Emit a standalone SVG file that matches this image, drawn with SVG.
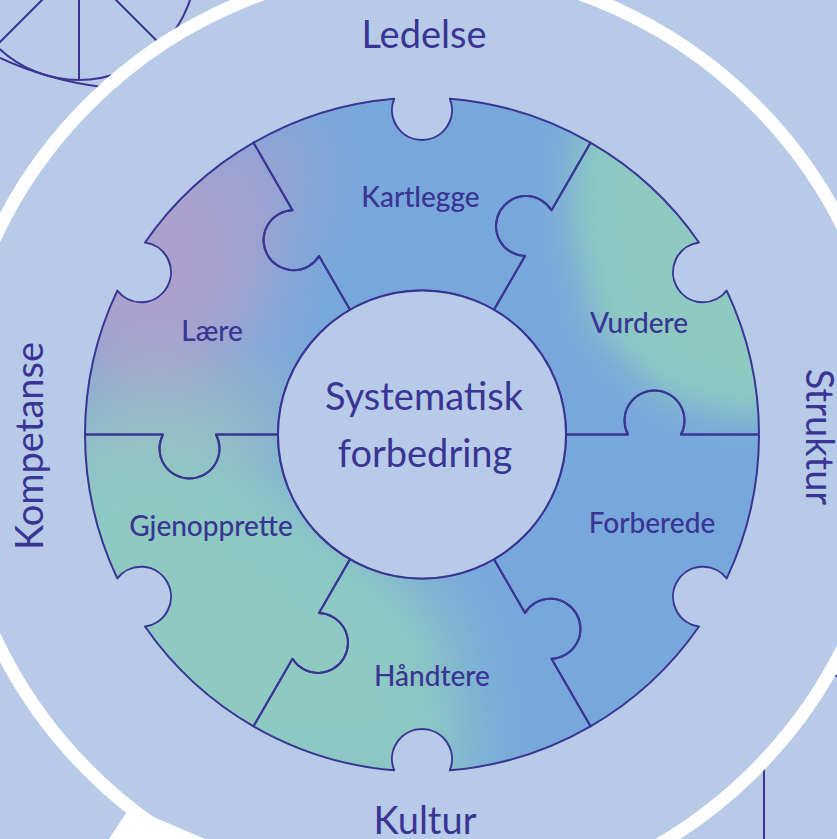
<svg xmlns="http://www.w3.org/2000/svg" xmlns:xlink="http://www.w3.org/1999/xlink" width="837" height="839" viewBox="0 0 837 839">
<style>
.ln{fill:none;stroke:#3a3494;stroke-width:2}
.piece{fill:none;stroke:#3a3494;stroke-width:2;stroke-linejoin:round}
.t{font-family:Lato,"Open Sans","DejaVu Sans",sans-serif;fill:#3a3494;text-anchor:middle}
.outer{font-size:38px}
.center{font-size:38px}
.plabel{font-size:28px;font-weight:500}
</style>
<defs>
<filter id="blur" filterUnits="userSpaceOnUse" x="0" y="0" width="837" height="839">
<feGaussianBlur stdDeviation="34"/>
</filter>
<filter id="blur2" filterUnits="userSpaceOnUse" x="0" y="0" width="837" height="839">
<feGaussianBlur stdDeviation="18"/>
</filter>
<clipPath id="ringClip">
<use xlink:href="#p-kartlegge"/>
<use xlink:href="#p-vurdere"/>
<use xlink:href="#p-forberede"/>
<use xlink:href="#p-handtere"/>
<use xlink:href="#p-gjenopprette"/>
<use xlink:href="#p-laere"/>
</clipPath>
</defs>
<rect width="837" height="839" fill="#b7cbe8"/>

<g id="background-marks">
<circle class="ln" cx="79" cy="-37" r="117"/>
<path class="ln" d="M79,-37 L79,80 M79,-37 L-4,46 M79,-37 L162,46"/>
<path class="ln" d="M0,58 C30,72 62,82 102,87"/>
<path class="ln" d="M764,766 L764,839 M830,676 L837,676"/>
<polygon points="130,807 109,839 205,839" fill="#ffffff"/>
<circle cx="421.5" cy="437.5" r="471" fill="none" stroke="#ffffff" stroke-width="13"/>
</g>

<g id="color-field" clip-path="url(#ringClip)">
<rect x="70" y="80" width="700" height="710" fill="#78a8db"/>
<g filter="url(#blur)">
<ellipse cx="150" cy="255" rx="125" ry="125" fill="#aaa1cd"/>
<ellipse cx="272" cy="175" rx="40" ry="65" fill="#9aa2d1"/>
<ellipse cx="175" cy="420" rx="130" ry="45" fill="#97b9c7"/>
<path d="M40,452 L190,446 L290,488 L390,565 L445,615 L462,700 L470,800 L40,800 Z" fill="#8ecac2"/>
</g>
<g filter="url(#blur2)">
<path d="M580,118 L700,128 L800,250 L800,410 L740,418 L665,396 L596,330 L570,220 Z" fill="#8ecac2"/>
</g>
</g>

<g id="pieces">
<g id="node-kartlegge">
<path id="p-kartlegge" class="piece" d="M494,309.8 L525,256.1 A30,30 0 1 1 551.5,210.2 L590.5,142.7 A337,337 0 0 0 449.8,98.65 A30,30 0 1 1 394.2,98.65 A337,337 0 0 0 253.5,142.7 L292.5,210.2 A30,30 0 1 0 319,256.1 L350,309.8 A144,144 0 0 1 494,309.8 Z"/>
<text class="t plabel" x="420.5" y="207">Kartlegge</text>
</g>
<g id="node-vurdere">
<path id="p-vurdere" class="piece" d="M566,434.5 L628,434.5 A30,30 0 1 1 681,434.5 L759,434.5 A337,337 0 0 0 726.7,290.6 A30,30 0 1 1 699,242.5 A337,337 0 0 0 590.5,142.7 L551.5,210.2 A30,30 0 1 0 525,256.1 L494,309.8 A144,144 0 0 1 566,434.5 Z"/>
<text class="t plabel" x="639" y="333">Vurdere</text>
</g>
<g id="node-forberede">
<path id="p-forberede" class="piece" d="M494,559.2 L525,612.9 A30,30 0 1 1 551.5,658.8 L590.5,726.3 A337,337 0 0 0 699,626.5 A30,30 0 1 1 726.7,578.4 A337,337 0 0 0 759,434.5 L681,434.5 A30,30 0 1 0 628,434.5 L566,434.5 A144,144 0 0 1 494,559.2 Z"/>
<text class="t plabel" x="652" y="533">Forberede</text>
</g>
<g id="node-handtere">
<path id="p-handtere" class="piece" d="M350,559.2 L319,612.9 A30,30 0 1 1 292.5,658.8 L253.5,726.3 A337,337 0 0 0 394.2,770.35 A30,30 0 1 1 449.8,770.35 A337,337 0 0 0 590.5,726.3 L551.5,658.8 A30,30 0 1 0 525,612.9 L494,559.2 A144,144 0 0 1 350,559.2 Z"/>
<text class="t plabel" x="432" y="686">Håndtere</text>
</g>
<g id="node-gjenopprette">
<path id="p-gjenopprette" class="piece" d="M278,434.5 L216,434.5 A30,30 0 1 1 163,434.5 L85,434.5 A337,337 0 0 0 117.3,578.4 A30,30 0 1 1 145,626.5 A337,337 0 0 0 253.5,726.3 L292.5,658.8 A30,30 0 1 0 319,612.9 L350,559.2 A144,144 0 0 1 278,434.5 Z"/>
<text class="t plabel" x="211" y="536">Gjenopprette</text>
</g>
<g id="node-laere">
<path id="p-laere" class="piece" d="M350,309.8 L319,256.1 A30,30 0 1 1 292.5,210.2 L253.5,142.7 A337,337 0 0 0 145,242.5 A30,30 0 1 1 117.3,290.6 A337,337 0 0 0 85,434.5 L163,434.5 A30,30 0 1 0 216,434.5 L278,434.5 A144,144 0 0 1 350,309.8 Z"/>
<text class="t plabel" x="212" y="341">Lære</text>
</g>
</g>

<g id="node-center">
<circle cx="422" cy="434.5" r="144" fill="#b7cbe8" stroke="#3a3494" stroke-width="2"/>
<text class="t center" x="424" y="410">Systematisk</text>
<text class="t center" x="425" y="467">forbedring</text>
</g>

<g id="outer-labels">
<text id="lbl-ledelse" class="t outer" x="424" y="48">Ledelse</text>
<text id="lbl-kultur" class="t outer" x="425" y="834">Kultur</text>
<text id="lbl-kompetanse" class="t outer" transform="translate(43,446) rotate(-90)">Kompetanse</text>
<text id="lbl-struktur" class="t outer" transform="translate(806,437) rotate(90)">Struktur</text>
</g>
</svg>
